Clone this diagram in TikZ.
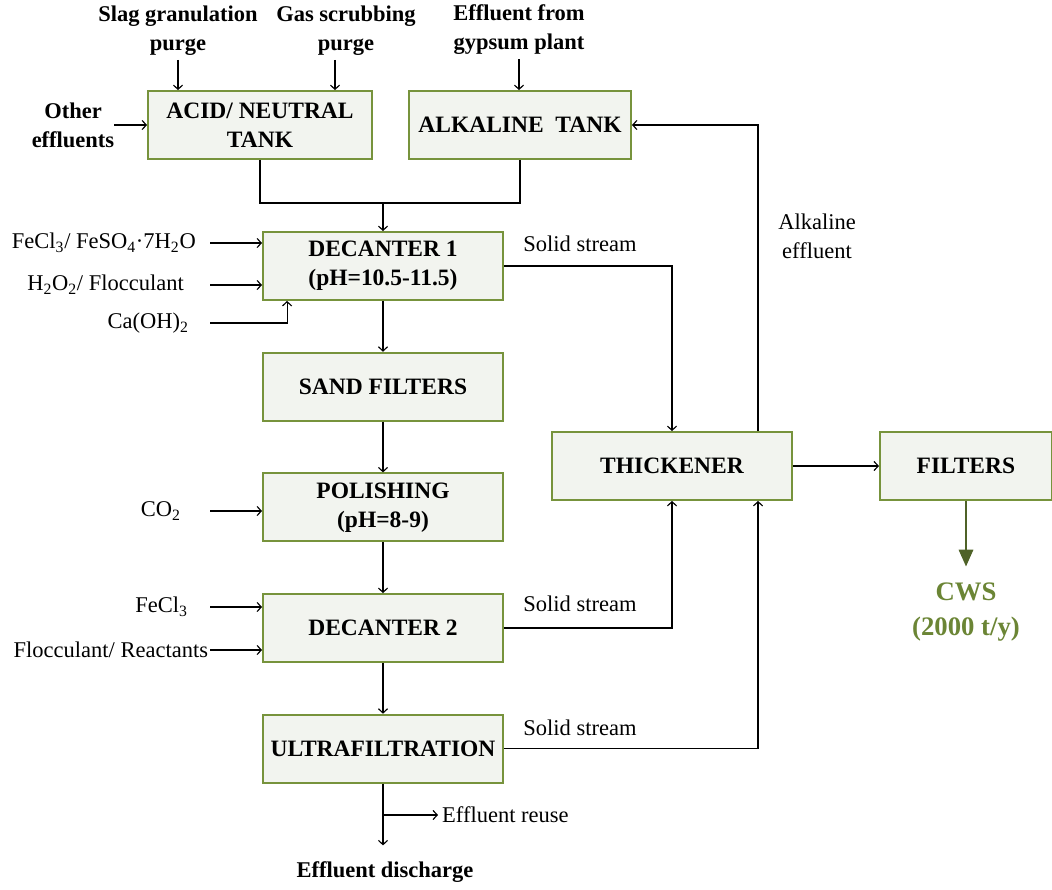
\documentclass[tikz,border=0pt]{standalone}
\usepackage{fontspec}
\setmainfont{Liberation Serif}
\usetikzlibrary{arrows.meta, positioning}
\definecolor{boxline}{HTML}{77933C}
\definecolor{boxfill}{HTML}{F2F4EF}
\definecolor{cwstext}{HTML}{6B8535}
\definecolor{cwsdark}{HTML}{4F6228}
\tikzset{
    box/.style = {draw=boxline, line width=1.3pt, rectangle, fill=boxfill, minimum width=6cm, minimum height=1.7cm, text centered, align=center, font=\fontsize{16.7}{20.6}\selectfont\bfseries},
    txt/.style = {inner sep=0pt, outer sep=3pt, align=center, font=\fontsize{16}{20.6}\selectfont},
    btxt/.style = {txt, font=\fontsize{16}{20.6}\selectfont\bfseries},
    arrow/.style = {-{Straight Barb[length=3pt, width=6.5pt]}, line width=0.8pt},
    flow/.style = {line width=0.8pt},
    cwsarrow/.style = {-{Triangle[length=12pt, width=10pt]}, line width=2pt, draw=cwsdark}
}

\begin{document}
\begin{tikzpicture}[x=0.025cm, y=-0.025cm, node distance=1.27cm]
    \useasboundingbox (0,0) rectangle (1052,889);

    % tanks
    \node[box, minimum width=5.6cm] (acid) at (260,125) {ACID/ NEUTRAL\\TANK};
    \node[box, minimum width=5.55cm] (alk) at (520,125) {ALKALINE\ \ TANK};

    % main line
    \node[box] (dec1) at (383,266) {DECANTER 1\\(pH=10.5-11.5)};
    \node[box, below=of dec1] (sand) {SAND FILTERS};
    \node[box, below=of sand] (pol) {POLISHING\\(pH=8-9)};
    \node[box, below=of pol] (dec2) {DECANTER 2};
    \node[box, below=of dec2] (ultra) {ULTRAFILTRATION};

    % sludge line
    \node[box] (thick) at (672,466) {THICKENER};
    \node[box, minimum width=4.3cm, right=2.15cm of thick] (filt) {FILTERS};

    % inlet streams
    \node[btxt] (slag) at (178,31) {Slag granulation\\purge};
    \node[btxt] (gas) at (346,31) {Gas scrubbing\\purge};
    \node[btxt] (gyp) at (519,30) {Effluent from\\gypsum plant};
    \node[btxt, outer sep=0pt] (other) at (73,125) {Other\\effluents};

    % reagents
    \coordinate (feed) at (210,0);
    \node[txt, anchor=east] (fe) at (200,243) {FeCl\textsubscript{3}/ FeSO\textsubscript{4}·7H\textsubscript{2}O};
    \node[txt, anchor=east] (h2o2) at (188,285) {H\textsubscript{2}O\textsubscript{2}/ Flocculant};
    \node[txt, anchor=east] (caoh) at (193,323) {Ca(OH)\textsubscript{2}};
    \node[txt, anchor=east] (co2) at (185,511) {CO\textsubscript{2}};
    \node[txt, anchor=east] (fecl) at (192,607) {FeCl\textsubscript{3}};
    \node[txt, anchor=east, outer sep=0pt] (floc) at (208,650) {Flocculant/ Reactants};

    % other labels
    \node[txt] (ss1) at (580,244) {Solid stream};
    \node[txt] (ss2) at (580,604) {Solid stream};
    \node[txt] (ss3) at (580,728) {Solid stream};
    \node[txt] (alkeff) at (817,236) {Alkaline\\effluent};
    \node[txt, anchor=west] (reuse) at (438,815) {Effluent reuse};
    \node[btxt] (disch) at (385,872) {Effluent discharge};
    \node[txt, text=cwstext, font=\fontsize{19}{24.8}\selectfont\bfseries] (cws) at (966,612) {CWS\\(2000 t/y)};

    % feeds to the tanks
    \draw[arrow] (slag) -- (slag |- acid.north);
    \draw[arrow] ([xshift=-0.275cm]gas.south) -- ([xshift=-0.275cm]gas.south |- acid.north);
    \draw[arrow] (gyp) -- (gyp |- alk.north);
    \draw[arrow] (other) -- (other -| acid.west);

    % tanks to decanter 1
    \coordinate (mix) at (383,203);
    \draw[flow] (acid.south) |- (mix) -| (alk.south);
    \draw[arrow] (mix) -- (dec1.north);

    % reagents
    \draw[arrow] (fe -| feed) -- (fe -| dec1.west);
    \draw[arrow] (h2o2 -| feed) -- (h2o2 -| dec1.west);
    \draw[arrow] (caoh -| feed) -| ([xshift=0.625cm]dec1.south west);
    \draw[arrow] (co2 -| feed) -- (co2 -| pol.west);
    \draw[arrow] (fecl -| feed) -- (fecl -| dec2.west);
    \draw[arrow] (floc -| feed) -- (floc -| dec2.west);

    % main line
    \draw[arrow] (dec1) -- (sand);
    \draw[arrow] (sand) -- (pol);
    \draw[arrow] (pol) -- (dec2);
    \draw[arrow] (dec2) -- (ultra);
    \draw[arrow, shorten >=0.3cm] (ultra.south) -- (ultra.south |- disch.north);
    \draw[arrow] (ultra.south |- reuse) -- (reuse);

    % solid streams
    \draw[arrow] (dec1.east) -| (thick.north);
    \draw[arrow] (dec2.east) -| (thick.south);
    \draw[arrow] (ultra.east) -| ([xshift=2.15cm]thick.south);
    \draw[arrow] ([xshift=2.15cm]thick.north) |- (alk.east);
    \draw[arrow] (thick) -- (filt);
    \draw[cwsarrow, shorten >=0.3cm] (filt.south -| cws) -- (cws);
\end{tikzpicture}
\end{document}
